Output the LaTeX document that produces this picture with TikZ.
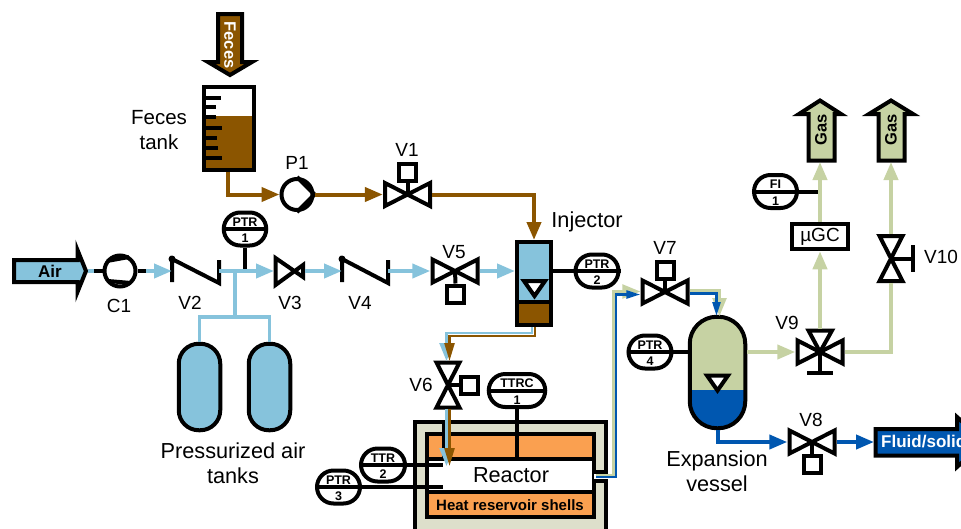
\documentclass[tikz,border=0pt]{standalone}
\usepackage{fontspec}
\setmainfont{Liberation Sans}
\usetikzlibrary{arrows.meta,shapes.misc,calc}
\definecolor{fbrown}{HTML}{8B5500}
\definecolor{airb}{HTML}{86C3DC}
\definecolor{khak}{HTML}{C6D2A3}
\definecolor{liq}{HTML}{0057B0}
\definecolor{orng}{HTML}{FAA050}
\definecolor{shell}{HTML}{DDDFCB}
\newcommand\fs[1]{\fontsize{#1}{#1}\selectfont}
\tikzset{
 x=1pt,y=-1pt,
 blk/.style={line width=4pt,draw=black,line join=miter},
 tip/.style={-{Triangle[length=18pt,width=14pt]}},
 pipe/.style={line width=4pt,line join=miter},
 sig/.style={line width=4pt,draw=black},
 lab/.style={font=\fs{20.5},inner sep=0pt,align=center},
 biglab/.style={font=\fs{21.7},inner sep=0pt,align=center},
 vlab/.style={font=\fs{19},inner sep=0pt},
 hval/.style={rectangle,inner sep=0pt,minimum width=49pt,minimum height=27pt},
 vval/.style={rectangle,inner sep=0pt,minimum width=27pt,minimum height=48pt},
 act/.style={blk,fill=white,rectangle,inner sep=0pt,minimum size=17pt},
 gaugebox/.style={blk,fill=white,rounded rectangle,inner sep=0pt,minimum height=33pt},
 gtxt/.style={font=\bfseries\fs{12.5},inner sep=0pt},
 rotor/.style={blk,fill=white,circle,inner sep=0pt,minimum size=31pt},
 tankbox/.style={blk,fill=airb,rectangle,rounded corners=20pt,inner sep=0pt,minimum width=41.5pt,minimum height=86.5pt},
 pics/bowh/.style={code={\draw[blk,fill=white] (-22.5,-11.5)--(-22.5,11.5)--(22.5,-11.5)--(22.5,11.5)--cycle;}},
 pics/bowv/.style={code={\draw[blk,fill=white] (-11.5,-22.5)--(11.5,-22.5)--(-11.5,22.5)--(11.5,22.5)--cycle;}},
 pics/level/.style={code={\draw[blk,fill=white] (-10.5,-7.5)--(10.5,-7.5)--(0,7.5)--cycle;}},
}
\newcommand\gauge[6]{% name, x, y, width, top, bottom
 \node[gaugebox,minimum width=#4pt] (#1) at (#2,#3) {};
 \draw[sig] (#1.west) -- (#1.east);
 \node[gtxt] (#1-t) at (#2,#3-7) {#5};
 \node[gtxt] (#1-n) at (#2,#3+9.5) {#6};}
\begin{document}
\begin{tikzpicture}
\useasboundingbox (0,0) rectangle (961,528);
\clip (0,0) rectangle (961,528);

% Feces inlet
\draw[blk,fill=fbrown] (218,14)--(242,14)--(242,62)--(252,62)--(230,75)--(208,62)--(218,62)--cycle;
\node[inner sep=0pt,rotate=-90,text=white,font=\bfseries\fs{16.5}] (fecesin) at (230,45) {Feces};

% Feces tank
\node[blk,fill=white,rectangle,inner sep=0pt,minimum width=50pt,minimum height=83pt] (tank) at (229,128.5) {};
\fill[fbrown] (205.5,116) rectangle (252.5,168.5);
\foreach \yy/\xx in {98/221,107/216,117/216,128/222,138/217,148/218,158/222}
 \draw[sig] (204,\yy) -- (\xx,\yy);
\draw[blk] (204,87) rectangle (254,170);
\node[lab] (tanklab) at (159,130) {Feces\\[4pt]tank};

% P1 and V1
\node[rotor] (p1) at (297,194.5) {};
\draw[blk] (p1.north) -- (p1.east) -- (p1.south);
\node[vlab] (p1lab) at (297,163) {P1};
\node[hval] (v1) at (407.5,194.5) {};
\path (v1) pic {bowh};
\node[act] (v1a) at (407.5,172.5) {};
\draw[sig] (v1a.south) -- (v1.center);
\node[vlab] (v1lab) at (407,150) {V1};

% Injector
\node[rectangle,inner sep=0pt,minimum width=34pt,minimum height=83pt,blk,fill=airb] (inj) at (534,283.5) {};
\fill[fbrown] (517,302) rectangle (551,325);
\draw[sig] (515,302) -- (553,302);
\draw[blk] (517,242) rectangle (551,325);
\path (534.5,288.5) pic {level};
\node[biglab] (injlab) at (587,222) {Injector};
\gauge{ptr2}{597}{271}{43}{PTR}{2}
\draw[sig] (inj.east |- ptr2.west) -- (ptr2.west);

% Brown pipes
\draw[pipe,fbrown,tip] (tank.south -| 228,0) |- (p1.west);
\draw[pipe,fbrown,tip] (p1.east) -- (v1.west);
\draw[pipe,fbrown,tip] (v1.east) -| (inj.north);

% Air inlet
\draw[blk,fill=airb] (14,260)--(77.5,260)--(77.5,250)--(86,271)--(77.5,292)--(77.5,282)--(14,282)--cycle;
\node[inner sep=0pt,font=\bfseries\fs{17}] (airlab) at (50,271) {Air};
\coordinate (airtip) at (88,271);

% C1
\node[rotor] (c1) at (120,271) {};
\draw[blk] (107,261) -- (129,257) (108,281) -- (131,283);
\node[vlab] (c1lab) at (119,306) {C1};
\coordinate (c1in) at (94,271);
\coordinate (c1out) at (146,271);

% Check valves
\coordinate (v2in) at (172,271);
\coordinate (v2out) at (219,271);
\draw[blk] (172,282) -- (172,259) -- (219,283) -- (219,260);
\fill (172,259) circle (3.5);
\node[vlab] (v2lab) at (190,303) {V2};
\coordinate (v4in) at (342,271);
\coordinate (v4out) at (388,271);
\draw[blk] (342,282) -- (342,259) -- (388,283) -- (388,260);
\fill (342,259) circle (3.5);
\node[vlab] (v4lab) at (360,303) {V4};

% V3
\coordinate (v3in) at (274,271);
\coordinate (v3out) at (305,271);
\draw[blk,fill=white] (275.5,258)--(275.5,285)--(303,265)--(303,277)--cycle;
\node[vlab] (v3lab) at (290,303) {V3};

% V5
\node[hval] (v5) at (455,271) {};
\path (v5) pic {bowh};
\node[act] (v5a) at (455.5,294) {};
\draw[sig] (v5a.north) -- (v5.center);
\node[vlab] (v5lab) at (454,252) {V5};

% PTR1
\gauge{ptr1}{245}{229}{42.5}{PTR}{1}
\coordinate (ptr1tap) at (245,269);
\draw[sig] (ptr1.south) -- (ptr1tap);

% Air tanks
\node[tankbox] (t1) at (199.5,387) {};
\node[tankbox] (t2) at (269.5,387) {};
\coordinate (tee) at (235,271);
\coordinate (tee2) at (235,317);
\draw[pipe,airb] (tee) -- (tee2);
\draw[pipe,airb,line width=3.5pt] (t1.north) -- (t1.north |- tee2) -- (t2.north |- tee2) -- (t2.north);
\node[biglab] (tanklabel) at (233,463.5) {Pressurized air\\[3pt]tanks};

% Air line
\draw[pipe,airb] (airtip) -- (c1in);
\draw[sig] (c1in) -- (c1.west);
\draw[sig] (c1.east) -- (c1out);
\draw[pipe,airb,tip] (c1out) -- (v2in);
\draw[pipe,airb,tip] (v2out) -- (v3in);
\draw[pipe,airb,tip] (v3out) -- (v4in);
\draw[pipe,airb,tip] (v4out) -- (v5.west);
\draw[pipe,airb,tip] (v5.east) -- (inj.west |- v5.east);

% Reactor
\node[rectangle,blk,fill=shell,inner sep=0pt,minimum width=191pt,minimum height=120pt] (shellbox) at (510.5,482) {};
\node[rectangle,blk,fill=orng,inner sep=0pt,minimum width=167pt,minimum height=83pt] (heat) at (510.5,475.5) {};
\node[rectangle,blk,fill=white,inner sep=0pt,minimum width=167pt,minimum height=32.5pt] (react) at (510.5,475.5) {};
\node[font=\fs{21.7},inner sep=0pt] (reactlab) at (511,475) {Reactor};
\node[font=\bfseries\fs{15},inner sep=0pt] (heatlab) at (510,505) {Heat reservoir shells};
\fill[white] (594,473.5) rectangle (610,479);
\draw[sig] (596,471.5) -- (608,471.5) (596,481) -- (608,481);

% V6
\node[vval] (v6) at (448,385) {};
\path (v6) pic {bowv};
\node[act] (v6a) at (469,385) {};
\draw[sig] (v6a.west) -- (v6.center);
\node[vlab] (v6lab) at (421,385) {V6};

% Reactor gauges
\gauge{ttrc}{517}{390.5}{56.5}{TTRC}{1}
\coordinate (ttrcend) at (517,458);
\draw[sig] (ttrc.south) -- (ttrcend);
\gauge{ttr2}{383}{465}{44}{TTR}{2}
\coordinate (ttr2end) at (443,465);
\draw[sig] (ttr2.east) -- (ttr2end);
\gauge{ptr3}{338.5}{487}{43}{PTR}{3}
\coordinate (ptr3end) at (443,487);
\draw[sig] (ptr3.east) -- (ptr3end);
\coordinate (tube1) at (443.5,420);
\coordinate (tube2) at (443.5,458);
\draw[sig] (tube1) -- (tube2);

% Injector to V6, V6 to reactor
\coordinate (injb) at (532,327);
\coordinate (injc) at (535,327);
\draw[line width=2.5pt,airb,tip] (injb) -- (532,333) -- (446.5,333) -- (446.5,361);
\draw[line width=2.5pt,fbrown,-{Triangle[length=18pt,width=10pt]}] (injc) -- (535,336) -- (449.5,336) -- (449.5,361);
\draw[line width=2.5pt,airb,tip] (446.5,409) -- (446.5,466);
\draw[line width=2.5pt,fbrown,-{Triangle[length=18pt,width=10pt]}] (449.5,409) -- (449.5,466);

% V7
\node[hval] (v7) at (665,292) {};
\path (v7) pic {bowh};
\node[act] (v7a) at (665,270.5) {};
\draw[sig] (v7a.south) -- (v7.center);
\node[vlab] (v7lab) at (665,248) {V7};

% Expansion vessel
\node[rectangle,rounded corners=27pt,blk,inner sep=0pt,minimum width=55.5pt,minimum height=111.5pt,fill=khak,
 path picture={\fill[liq,sharp corners] (path picture bounding box.south west) rectangle ([yshift=38pt]path picture bounding box.south east);}] (ves) at (717.5,372.5) {};
\path (717.5,383) pic {level};
\node[biglab] (veslab) at (717,471.5) {Expansion\\[3pt]vessel};
\gauge{ptr4}{650}{352}{43}{PTR}{4}
\draw[sig] (ptr4.east) -- (ves.west |- ptr4.east);

% Reactor to V7 to vessel
\coordinate (rk) at (596,475);
\coordinate (rb) at (596,477);
\draw[line width=2.5pt,khak,tip] (rk) -- (613.5,475) -- (613.5,291.5) -- (v7.west |- 0,291.5);
\draw[line width=2.5pt,liq,-{Triangle[length=14pt,width=8pt]}] (rb) -- (616,477) -- (616,294.5) -- (v7.west |- 0,294.5);
\draw[line width=2.5pt,khak,tip] (v7.east |- 0,290.5) -- (719.5,290.5) -- (719.5,316);
\draw[line width=2.5pt,liq,-{Triangle[length=14pt,width=8pt]}] (v7.east |- 0,293.5) -- (716.5,293.5) -- (716.5,316);

% V9, V10, V8
\node[hval,minimum height=36pt] (v9) at (820,352) {};
\draw[blk,fill=white] (797.5,340.5)--(797.5,363.5)--(842.5,340.5)--(842.5,363.5)--cycle;
\draw[blk,fill=white] (808.5,330.5)--(832,330.5)--(820,352)--cycle;
\coordinate (v9top) at (820,329);
\coordinate (v9t) at (820,373);
\draw[sig] (v9.center) -- (v9t);
\draw[blk] (807,373) -- (833,373);
\node[vlab] (v9lab) at (787,323) {V9};

\node[vval] (v10) at (891,258.5) {};
\path (v10) pic {bowv};
\coordinate (v10t) at (913,258.5);
\draw[sig] (v10.center) -- (v10t);
\draw[blk] (913,245) -- (913,272);
\node[vlab] (v10lab) at (941,257) {V10};

\node[hval] (v8) at (812,442) {};
\path (v8) pic {bowh};
\node[act] (v8a) at (812,464) {};
\draw[sig] (v8a.north) -- (v8.center);
\node[vlab] (v8lab) at (811,420) {V8};

% uGC and FI
\node[blk,fill=white,rectangle,inner sep=0pt,minimum width=55.5pt,minimum height=25.5pt,font=\fs{19}] (ugc) at (820,236.5) {µGC};
\gauge{fi}{775.5}{191.5}{43}{FI}{1}

% Gas outlets
\draw[blk,fill=khak] (808.5,160.5)--(808.5,114)--(799,114)--(820,100.5)--(841,114)--(834.5,114)--(834.5,160.5)--cycle;
\draw[blk,fill=khak] (878.5,160.5)--(878.5,114)--(869,114)--(891,100.5)--(913,114)--(904.5,114)--(904.5,160.5)--cycle;
\node[inner sep=0pt,rotate=90,font=\fs{16.5},text=black] (gas1) at (821,130) {\bfseries Gas};
\node[inner sep=0pt,rotate=90,font=\fs{16.5},text=black] (gas2) at (891,130) {\bfseries Gas};
\coordinate (g1) at (820,162);
\coordinate (g2) at (891,162);

% Fluid/solid outlet
\draw[blk,fill=liq] (875.5,429)--(957,429)--(957,417)--(985,442)--(957,467)--(957,455.5)--(875.5,455.5)--cycle;
\node[anchor=west,inner sep=0pt,text=white,font=\bfseries\fs{17}] (fluid) at (881,442) {Fluid/solid};
\coordinate (fluidin) at (874,442);

% Gas pipes
\draw[pipe,khak,tip] (ves.east |- v9) -- (v9.west);
\draw[pipe,khak,tip] (v9top) -- (ugc.south);
\draw[pipe,khak,tip] (ugc.north) -- (g1);
\coordinate (fitap) at (818,191.5);
\draw[sig] (fi.east) -- (fitap);
\draw[pipe,khak] (v9.east) -- (v10.south |- v9.east) -- (v10.south);
\draw[pipe,khak,tip] (v10.north) -- (g2);

% Liquid pipes
\draw[pipe,liq,tip] (ves.south) |- (v8.west);
\draw[pipe,liq,tip] (v8.east) -- (fluidin);
\end{tikzpicture}
\end{document}
